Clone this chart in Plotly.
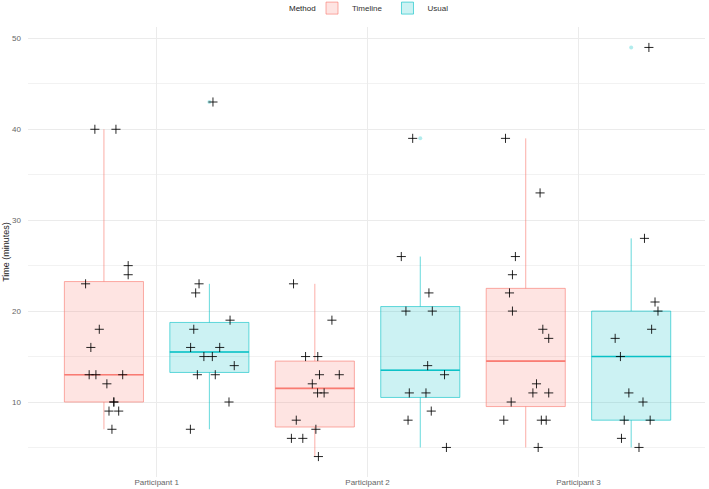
import numpy as np
import plotly.graph_objects as go

categories = ["Participant 1", "Participant 2", "Participant 3"]
methods = ["Timeline", "Usual"]
y_ticks = [10, 20, 30, 40, 50]

# Times (minutes) per participant and method
p1_timeline = [40, 40, 25, 24, 23, 18, 16, 13, 13, 13, 12, 10, 10, 9, 9, 7]
p1_usual = [43, 23, 22, 19, 18, 16, 16, 15, 15, 14, 13, 13, 10, 7]
p2_timeline = [23, 19, 15, 15, 13, 13, 12, 11, 11, 8, 7, 6, 6, 4]
p2_usual = [39, 26, 22, 20, 20, 14, 13, 11, 11, 9, 8, 5]
p3_timeline = [39, 33, 26, 24, 22, 20, 18, 17, 12, 11, 11, 10, 8, 8, 8, 5]
p3_usual = [49, 28, 21, 20, 18, 17, 15, 11, 10, 8, 8, 6, 5]

# Horizontal jitter of each point (category units, relative to the category centre)
jit_p1_timeline = [-0.293, -0.193, -0.135, -0.135, -0.337, -0.272, -0.312, -0.320, -0.288, -0.161,
                   -0.236, -0.203, -0.203, -0.226, -0.180, -0.212]
jit_p1_usual = [0.267, 0.201, 0.185, 0.348, 0.176, 0.161, 0.299, 0.224, 0.264, 0.368, 0.193, 0.278, 0.343, 0.160]
jit_p2_timeline = [-0.351, -0.169, -0.294, -0.236, -0.228, -0.134, -0.262, -0.237, -0.206, -0.338,
                   -0.245, -0.361, -0.307, -0.233]
jit_p2_usual = [0.214, 0.160, 0.291, 0.182, 0.307, 0.285, 0.365, 0.198, 0.277, 0.302, 0.192, 0.374]
jit_p3_timeline = [-0.346, -0.182, -0.299, -0.313, -0.327, -0.313, -0.169, -0.141, -0.199, -0.216,
                   -0.141, -0.319, -0.354, -0.176, -0.153, -0.191]
jit_p3_usual = [0.334, 0.313, 0.363, 0.377, 0.347, 0.174, 0.199, 0.239, 0.306, 0.217, 0.340, 0.204, 0.287]

groups = {
    "Timeline": [(p1_timeline, jit_p1_timeline), (p2_timeline, jit_p2_timeline), (p3_timeline, jit_p3_timeline)],
    "Usual": [(p1_usual, jit_p1_usual), (p2_usual, jit_p2_usual), (p3_usual, jit_p3_usual)],
}

DODGE = {"Timeline": -0.25, "Usual": 0.25}
BOXW = 0.375
COL = {"Timeline": (248, 118, 109), "Usual": (0, 191, 196)}
FONT = "Liberation Sans, Arial, sans-serif"


def rgba(c, a):
    return f"rgba({c[0]},{c[1]},{c[2]},{a})"


def stats(v):
    v = np.asarray(v, dtype=float)
    q1, med, q3 = np.percentile(v, [25, 50, 75])
    iqr = q3 - q1
    lo = v[v >= q1 - 1.5 * iqr].min()
    hi = v[v <= q3 + 1.5 * iqr].max()
    out = v[(v < lo) | (v > hi)]
    return q1, med, q3, lo, hi, out


fig = go.Figure()

for m in methods:
    c = COL[m]
    xs, q1s, meds, q3s, los, his = [], [], [], [], [], []
    ox, oy = [], []
    for i, (vals, _) in enumerate(groups[m]):
        q1, med, q3, lo, hi, out = stats(vals)
        pos = i + 1 + DODGE[m]
        xs.append(pos); q1s.append(q1); meds.append(med); q3s.append(q3); los.append(lo); his.append(hi)
        for o in out:
            ox.append(pos); oy.append(o)
    fig.add_trace(go.Box(
        x=xs, q1=q1s, median=meds, q3=q3s, lowerfence=los, upperfence=his,
        width=BOXW, whiskerwidth=0, boxpoints=False,
        fillcolor=rgba(c, 0.2), line=dict(color=rgba(c, 0.6), width=1),
        name=m, legendgroup=m, showlegend=True, hoverinfo="skip",
    ))
    # thicker median line as in ggplot
    mx, my = [], []
    for p, md in zip(xs, meds):
        mx += [p - BOXW / 2, p + BOXW / 2, None]
        my += [md, md, None]
    fig.add_trace(go.Scatter(x=mx, y=my, mode="lines", line=dict(color=rgba(c, 0.9), width=1.6),
                             showlegend=False, legendgroup=m, hoverinfo="skip"))
    # outliers
    fig.add_trace(go.Scatter(x=ox, y=oy, mode="markers", marker=dict(color=rgba(c, 0.3), size=4),
                             showlegend=False, legendgroup=m, hoverinfo="skip"))

for m in methods:
    for i, (vals, jit) in enumerate(groups[m]):
        fig.add_trace(go.Scatter(
            x=[i + 1 + j for j in jit], y=vals, mode="markers",
            marker=dict(symbol="cross-thin", size=6.5, line=dict(color="rgba(0,0,0,0.85)", width=1)),
            showlegend=False, hoverinfo="skip",
        ))

fig.add_annotation(text="Method", xref="paper", yref="paper", x=(318 - 28) / 677, y=1.042,
                   xanchor="right", yanchor="middle", showarrow=False,
                   font=dict(size=8, color="#222222"))

fig.update_layout(
    width=709, height=489,
    margin=dict(l=28, r=4, t=27, b=12, autoexpand=False),
    plot_bgcolor="white", paper_bgcolor="white",
    font=dict(family=FONT, size=8, color="#222222"),
    showlegend=True,
    legend=dict(orientation="h", x=(312 - 28) / 677, xanchor="left", y=1.042, yanchor="middle",
                font=dict(size=8, color="#333333"), itemwidth=30, tracegroupgap=0,
                bgcolor="rgba(0,0,0,0)"),
    xaxis=dict(range=[0.39, 3.60], tickmode="array", tickvals=[1, 2, 3], ticktext=categories,
               showgrid=True, gridcolor="#EBEBEB", gridwidth=1, zeroline=False, showline=False,
               ticks="", tickfont=dict(size=8, color="#666666"), automargin=False,
               ticklabelstandoff=-1),
    yaxis=dict(range=[1.75, 51.25], tickmode="array", tickvals=y_ticks,
               showgrid=True, gridcolor="#EBEBEB", gridwidth=1, zeroline=False, showline=False,
               ticks="", tickfont=dict(size=8, color="#666666"), automargin=False,
               ticklabelstandoff=6,
               minor=dict(tickvals=[5, 15, 25, 35, 45], showgrid=True, gridcolor="#F2F2F2", gridwidth=1),
               title=dict(text="Time (minutes)", font=dict(size=9, color="#222222"), standoff=0)),
)

fig.write_html("out.html", config={"displayModeBar": False},
               post_script="document.body.style.margin='0';")
